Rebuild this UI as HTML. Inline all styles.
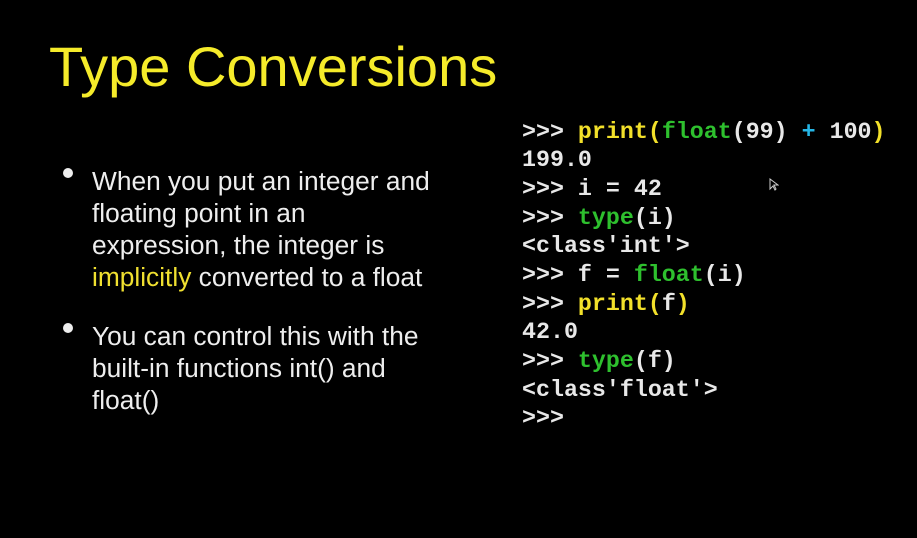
<!DOCTYPE html>
<html><head><style>
body{margin:0;width:917px;height:538px;background:#000;overflow:hidden;position:relative;font-family:"Liberation Sans",sans-serif;color:#eee}
.a{position:absolute;white-space:pre;line-height:1}
.t{font-size:56px;color:#f5eb2a;left:49px;top:39px}
.b{font-size:26.3px;left:92px}
.d{position:absolute;width:10px;height:10px;border-radius:50%;background:#eee;left:63px}
.c{font-family:"Liberation Mono",monospace;font-weight:bold;font-size:23.3px;left:522px;color:#e8e8e8}
.y{color:#f2e02a}.g{color:#2ec02e}.u{color:#25b6e6}.h{color:#f0e030}
</style></head><body>
<div class="a t">Type Conversions</div>
<div class="d" style="top:168px"></div>
<div class="a b" style="top:168px">When you put an integer and</div>
<div class="a b" style="top:200px">floating point in an</div>
<div class="a b" style="top:232px">expression, the integer is</div>
<div class="a b" style="top:264px"><span class="h">implicitly</span> converted to a float</div>
<div class="d" style="top:323px"></div>
<div class="a b" style="top:323px">You can control this with the</div>
<div class="a b" style="top:355px">built-in functions int() and</div>
<div class="a b" style="top:387px">float()</div>
<div class="a c" style="top:121px">&gt;&gt;&gt; <span class="y">print(</span><span class="g">float</span>(99) <span class="u">+</span> 100<span class="y">)</span></div>
<div class="a c" style="top:149px">199.0</div>
<div class="a c" style="top:178px">&gt;&gt;&gt; i = 42</div>
<div class="a c" style="top:207px">&gt;&gt;&gt; <span class="g">type</span>(i)</div>
<div class="a c" style="top:235px">&lt;class'int'&gt;</div>
<div class="a c" style="top:264px">&gt;&gt;&gt; f = <span class="g">float</span>(i)</div>
<div class="a c" style="top:293px">&gt;&gt;&gt; <span class="y">print(</span>f<span class="y">)</span></div>
<div class="a c" style="top:321px">42.0</div>
<div class="a c" style="top:350px">&gt;&gt;&gt; <span class="g">type</span>(f)</div>
<div class="a c" style="top:379px">&lt;class'float'&gt;</div>
<div class="a c" style="top:407px">&gt;&gt;&gt;</div>
<svg style="position:absolute;left:769px;top:178px" width="10" height="14"><path d="M1 1 L1 11 L4 8 L6 12 L7 11 L5 7 L9 7 Z" fill="#000" stroke="#ccc" stroke-width="1"/></svg>
</body></html>
